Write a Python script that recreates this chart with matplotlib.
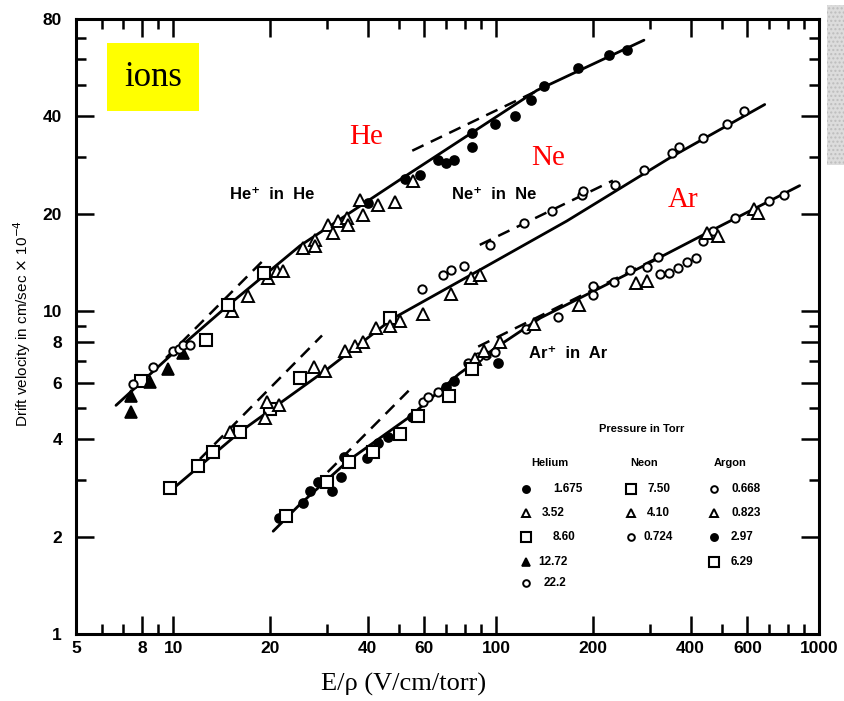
import matplotlib
matplotlib.use('Agg')
import matplotlib.pyplot as plt
from matplotlib.patches import Rectangle
from matplotlib.ticker import FixedLocator, FixedFormatter, NullFormatter

# ---------------- data ----------------
x_major = [5, 8, 10, 20, 40, 60, 100, 200, 400, 600, 1000]
x_minor = [6, 7, 9, 30, 50, 70, 80, 90, 300, 500, 700, 800, 900]
y_major = [1, 2, 4, 6, 8, 10, 20, 40, 80]
y_minor = [3, 5, 7, 9, 30, 50, 60, 70]

# solid fitted curves
he_curve_x = [6.65, 10, 14.8, 24.7, 51.4, 133.7, 287]
he_curve_y = [5.1, 7.4, 10.4, 15.9, 25.8, 48.1, 68.8]
ne_curve_x = [10.0, 16.1, 30, 47.9, 91, 165.6, 350, 679]
ne_curve_y = [2.82, 4.22, 6.6, 9.47, 13.55, 18.97, 30.0, 43.5]
ar_curve_x = [20.4, 24.7, 35, 54, 77, 100, 137, 279, 500, 871]
ar_curve_y = [2.08, 2.52, 3.45, 4.7, 6.4, 7.7, 9.5, 13.6, 18.4, 24.4]

# dashed limiting lines (low field / high field)
he_low_x, he_low_y = [9.5, 19.5], [7.15, 14.7]
he_high_x, he_high_y = [55, 140], [31.3, 49.0]
ne_low_x, ne_low_y = [12.1, 28.9], [3.48, 8.39]
ne_high_x, ne_high_y = [89, 230], [16.0, 25.3]
ar_low_x, ar_low_y = [30.1, 53.6], [3.17, 5.66]
ar_high_x, ar_high_y = [88, 330], [7.75, 14.9]

# Helium data points by pressure (Torr)
he_1675_x = [40.2, 52.2, 58.1, 65.9, 69.9, 74.1, 84.1, 84.1, 99.5, 114.6, 128, 140.9, 179.5, 223, 255]
he_1675_y = [21.6, 25.5, 26.4, 29.2, 28.6, 29.2, 35.5, 32.2, 37.9, 40.0, 44.9, 49.6, 56.4, 61.9, 64.3]
he_352_x = [15.2, 17.0, 19.6, 21.0, 21.9, 25.2, 27.4, 27.4, 30.1, 31.2, 32.4, 34.6, 34.9, 37.8, 38.7, 43.1, 48.6, 55.4]
he_352_y = [10.0, 11.1, 12.6, 13.3, 13.3, 15.6, 16.6, 15.9, 18.4, 17.4, 19.0, 19.4, 18.4, 22.1, 19.8, 21.3, 21.7, 25.3]
he_860_x = [7.96, 12.6, 14.8, 19.1]
he_860_y = [6.07, 8.1, 10.4, 13.1]
he_1272_x = [7.40, 7.40, 8.48, 9.62, 10.7]
he_1272_y = [4.87, 5.46, 6.04, 6.62, 7.38]
he_222_x = [7.50, 8.65, 10.0, 10.4, 10.7, 11.3]
he_222_y = [5.95, 6.72, 7.53, 7.6, 7.86, 7.86]

# Neon data points
ne_750_x = [9.78, 11.96, 13.3, 16.1, 20.0, 24.7, 46.9]
ne_750_y = [2.82, 3.30, 3.65, 4.22, 4.98, 6.21, 9.5]
ne_410_x = [15.0, 19.3, 19.5, 21.2, 27.3, 29.5, 34.0, 36.5, 38.6, 42.4, 46.9, 50.4, 59.4, 72.4, 83.8, 89.0]
ne_410_y = [4.22, 4.66, 5.24, 5.12, 6.72, 6.53, 7.53, 7.8, 8.02, 8.87, 9.0, 9.3, 9.8, 11.3, 12.6, 12.9]
ne_0724_x = [59.0, 68.6, 72.4, 79.6, 95.7, 121.6, 148.6, 184, 186, 233, 288, 350, 368, 438, 520, 586]
ne_0724_y = [11.7, 12.9, 13.4, 13.8, 16.0, 18.7, 20.4, 22.9, 23.5, 24.6, 27.2, 30.9, 32.2, 34.2, 37.9, 41.5]

# Argon data points
ar_0668_x = [59.4, 61.6, 65.9, 82, 88, 93, 99.5, 124, 155.6, 200, 200, 231, 260, 294, 318, 322, 344, 365, 389, 416, 438, 468, 550, 701, 778]
ar_0668_y = [5.23, 5.42, 5.62, 6.9, 7.2, 7.3, 7.47, 8.8, 9.6, 11.2, 11.9, 12.3, 13.4, 13.7, 14.7, 13.0, 13.1, 13.6, 14.2, 14.6, 16.4, 17.7, 19.4, 21.9, 22.9]
ar_0823_x = [86, 92, 102.7, 131, 181, 272, 294, 451, 485, 627, 647]
ar_0823_y = [7.1, 7.5, 8.03, 9.1, 10.4, 12.2, 12.4, 17.4, 17.0, 20.6, 20.1]
ar_297_x = [21.2, 25.2, 26.6, 28.1, 31.0, 33.2, 33.9, 39.9, 43.1, 46.3, 54.9, 69.9, 74.1, 101.7]
ar_297_y = [2.29, 2.55, 2.78, 2.95, 2.77, 3.05, 3.53, 3.5, 3.9, 4.07, 4.69, 5.82, 6.08, 6.9]
ar_629_x = [22.4, 30.0, 35.1, 41.6, 50.3, 57.3, 71.4, 84]
ar_629_y = [2.31, 2.95, 3.40, 3.65, 4.16, 4.72, 5.46, 6.6]

# legend texts
legend_title = 'Pressure in Torr'
he_labels = ['1.675', '3.52', '8.60', '12.72', '22.2']
ne_labels = ['7.50', '4.10', '0.724']
ar_labels = ['0.668', '0.823', '2.97', '6.29']

# ---------------- style ----------------
SANS = ['Liberation Sans', 'DejaVu Sans']
SERIF = ['Liberation Serif', 'DejaVu Serif']
plt.rcParams['font.family'] = SANS

W, H = 844, 701
fig = plt.figure(figsize=(W / 100, H / 100), dpi=100)
ax = fig.add_axes([76 / W, 1 - 634 / H, 743 / W, 615 / H])
ax.set_xscale('log')
ax.set_yscale('log')
ax.set_xlim(5, 1000)
ax.set_ylim(1, 80)

styles = {
    'fo': dict(marker='o', ms=6.5, mfc='black', mec='black', mew=1.2),
    'oo': dict(marker='o', ms=6, mfc='white', mec='black', mew=1.4),
    'ot': dict(marker='^', ms=8, mfc='white', mec='black', mew=1.4),
    'ft': dict(marker='^', ms=8, mfc='black', mec='black', mew=1.2),
    'os': dict(marker='s', ms=8.5, mfc='white', mec='black', mew=1.5),
}

lw = 2.0
for cx, cy in [(he_curve_x, he_curve_y), (ne_curve_x, ne_curve_y), (ar_curve_x, ar_curve_y)]:
    ax.plot(cx, cy, color='black', lw=lw, solid_capstyle='round', zorder=2)
for dx, dy in [(he_low_x, he_low_y), (he_high_x, he_high_y), (ne_low_x, ne_low_y),
               (ne_high_x, ne_high_y), (ar_low_x, ar_low_y), (ar_high_x, ar_high_y)]:
    ax.plot(dx, dy, color='black', lw=1.8, dashes=(5, 3.2), zorder=2)

series = [
    (he_1675_x, he_1675_y, 'fo'), (he_352_x, he_352_y, 'ot'), (he_860_x, he_860_y, 'os'),
    (he_1272_x, he_1272_y, 'ft'), (he_222_x, he_222_y, 'oo'),
    (ne_750_x, ne_750_y, 'os'), (ne_410_x, ne_410_y, 'ot'), (ne_0724_x, ne_0724_y, 'oo'),
    (ar_0668_x, ar_0668_y, 'oo'), (ar_0823_x, ar_0823_y, 'ot'), (ar_297_x, ar_297_y, 'fo'),
    (ar_629_x, ar_629_y, 'os'),
]
for sx, sy, st in series:
    ax.plot(sx, sy, ls='none', zorder=3, **styles[st])

# axes / ticks
for s in ax.spines.values():
    s.set_linewidth(2.2)
ax.xaxis.set_major_locator(FixedLocator(x_major))
ax.xaxis.set_major_formatter(FixedFormatter([str(v) for v in x_major]))
ax.xaxis.set_minor_locator(FixedLocator(x_minor))
ax.xaxis.set_minor_formatter(NullFormatter())
ax.yaxis.set_major_locator(FixedLocator(y_major))
ax.yaxis.set_major_formatter(FixedFormatter([str(v) for v in y_major]))
ax.yaxis.set_minor_locator(FixedLocator(y_minor))
ax.yaxis.set_minor_formatter(NullFormatter())
ax.tick_params(which='both', direction='in', top=True, right=True, width=1.8, labelsize=12.5)
ax.tick_params(which='major', length=13)
ax.tick_params(which='minor', length=7)
ax.tick_params(axis='x', which='major', pad=5)
ax.tick_params(axis='y', which='major', pad=10)
for lab in ax.get_xticklabels() + ax.get_yticklabels():
    lab.set_fontweight('bold')

# axis labels
fig.text(22 / W, 1 - 323 / H, 'Drift velocity in cm/sec $\\times$ 10$^{-4}$', rotation=90,
         ha='center', va='center', fontsize=11, family=SANS)
fig.text(404 / W, 1 - 684 / H, 'E/ρ (V/cm/torr)', ha='center', va='center',
         fontsize=19, family=SERIF)

# "ions" box
fig.text(153 / W, 1 - 77 / H, 'ions', ha='center', va='center', fontsize=25, family=SERIF,
         bbox=dict(boxstyle='square,pad=0.5', facecolor='#ffff00', edgecolor='none'))

# red gas labels
for txt, px, py in [('He', 366, 137), ('Ne', 548, 158), ('Ar', 683, 200)]:
    fig.text(px / W, 1 - py / H, txt, color='red', ha='center', va='center',
             fontsize=21, family=SERIF)

# ion labels
for txt, px, py in [('He\u207a  in  He', 272, 195), ('Ne\u207a  in  Ne', 494, 195),
                    ('Ar\u207a  in  Ar', 568, 353)]:
    fig.text(px / W, 1 - py / H, txt, ha='center', va='center', fontsize=12,
             fontweight='bold', family=SANS)

# pressure legend (axes-fraction layout)
def fx(px):
    return (px - 76) / 743

def fy(py):
    return (634 - py) / 615

lfs = 8
ax.text(fx(642), fy(429), legend_title, transform=ax.transAxes, ha='center', va='center',
        fontsize=lfs, fontweight='bold')
for txt, px in [('Helium', 550), ('Neon', 644), ('Argon', 730)]:
    ax.text(fx(px), fy(463), txt, transform=ax.transAxes, ha='center', va='center',
            fontsize=lfs, fontweight='bold')
rows_py = [489, 513, 537, 562, 583]
he_styles = ['fo', 'ot', 'os', 'ft', 'oo']
he_text_px = [553, 542, 553, 538, 544]
for i, lab in enumerate(he_labels):
    st = dict(styles[he_styles[i]])
    st['ms'] = st['ms'] * 0.8
    ax.plot([fx(526)], [fy(rows_py[i])], transform=ax.transAxes, ls='none', clip_on=False, **st)
    ax.text(fx(he_text_px[i]), fy(rows_py[i]), lab, transform=ax.transAxes, ha='left',
            va='center', fontsize=lfs + 0.5, fontweight='bold')
ne_styles = ['os', 'ot', 'oo']
ne_text_px = [647, 647, 644]
for i, lab in enumerate(ne_labels):
    st = dict(styles[ne_styles[i]])
    st['ms'] = st['ms'] * 0.8
    ax.plot([fx(631)], [fy(rows_py[i])], transform=ax.transAxes, ls='none', clip_on=False, **st)
    ax.text(fx(ne_text_px[i]), fy(rows_py[i]), lab, transform=ax.transAxes, ha='left',
            va='center', fontsize=lfs + 0.5, fontweight='bold')
ar_styles = ['oo', 'ot', 'fo', 'os']
for i, lab in enumerate(ar_labels):
    st = dict(styles[ar_styles[i]])
    st['ms'] = st['ms'] * 0.8
    ax.plot([fx(714)], [fy(rows_py[i])], transform=ax.transAxes, ls='none', clip_on=False, **st)
    ax.text(fx(731), fy(rows_py[i]), lab, transform=ax.transAxes, ha='left',
            va='center', fontsize=lfs + 0.5, fontweight='bold')

# scan artefact strip at right edge
fig.patches.append(Rectangle((827 / W, 1 - 165 / H), 17 / W, 160 / H, transform=fig.transFigure,
                             facecolor='#dcdcdc', edgecolor='#bdbdbd', lw=0, hatch='....'))

fig.savefig('out.png', dpi=100)
